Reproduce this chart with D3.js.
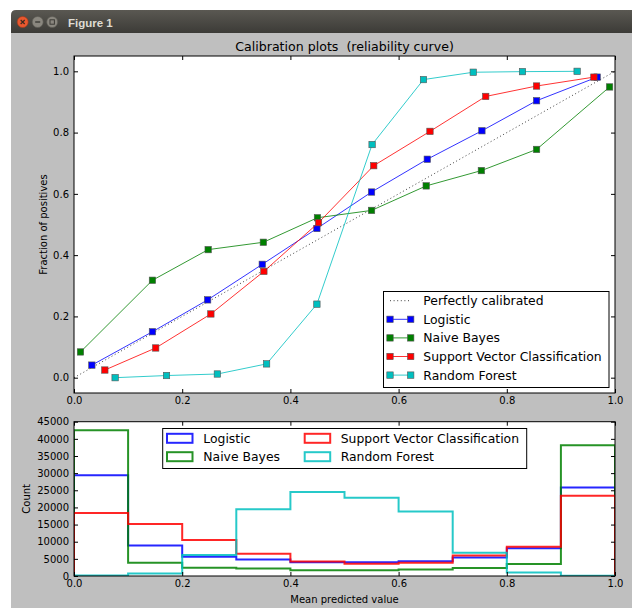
<!DOCTYPE html>
<html><head><meta charset="utf-8">
<script src="https://cdn.jsdelivr.net/npm/d3@7"></script>
<style>body{margin:0;background:#fff;} svg{display:block;} text{font-family:"DejaVu Sans",sans-serif;}</style>
</head><body>
<svg id="c" width="632" height="608"></svg>
<script>
// ---- data ----
const seriesNames = ["Logistic", "Naive Bayes", "Support Vector Classification", "Random Forest"];
const seriesColors = ["#0000ff", "#008000", "#ff0000", "#00bfbf"];
const xTicks = [0.0, 0.2, 0.4, 0.6, 0.8, 1.0];
const yTicksTop = [0.0, 0.2, 0.4, 0.6, 0.8, 1.0];
const yTicksBottom = [0, 5000, 10000, 15000, 20000, 25000, 30000, 35000, 40000, 45000];
const binEdges = [0.0, 0.1, 0.2, 0.3, 0.4, 0.5, 0.6, 0.7, 0.8, 0.9, 1.0];

const lrX  = [0.033, 0.145, 0.247, 0.348, 0.449, 0.550, 0.653, 0.754, 0.855, 0.967];
const lrY  = [0.041, 0.150, 0.254, 0.370, 0.487, 0.606, 0.713, 0.806, 0.904, 0.981];
const nbX  = [0.012, 0.145, 0.248, 0.350, 0.450, 0.550, 0.651, 0.753, 0.855, 0.990];
const nbY  = [0.084, 0.318, 0.418, 0.442, 0.522, 0.546, 0.626, 0.676, 0.745, 0.949];
const svcX = [0.057, 0.151, 0.253, 0.351, 0.452, 0.554, 0.658, 0.761, 0.855, 0.961];
const svcY = [0.025, 0.097, 0.208, 0.347, 0.506, 0.692, 0.804, 0.918, 0.952, 0.981];
const rfX  = [0.076, 0.171, 0.265, 0.356, 0.449, 0.551, 0.646, 0.738, 0.829, 0.930];
const rfY  = [0.000, 0.007, 0.012, 0.045, 0.240, 0.761, 0.973, 0.997, 0.999, 1.000];

const histLR  = [29400, 8900, 5600, 4800, 4000, 4000, 4300, 5400, 8100, 25800];
const histNB  = [42500, 3900, 2400, 2200, 1700, 1700, 1900, 2300, 3500, 38100];
const histSVC = [18400, 15200, 10500, 6500, 4200, 3600, 3900, 6000, 8500, 23400];
const histRF  = [150, 700, 6100, 19500, 24500, 22800, 18800, 6800, 1000, 100];

const curves = [[lrX, lrY], [nbX, nbY], [svcX, svcY], [rfX, rfY]];
const hists = [histLR, histNB, histSVC, histRF];

// ---- layout ----
const svg = d3.select("#c");
const FIG = {x: 11, y: 33};
const boxT = {l: 74, r: 615, t: 56, b: 393};
const boxB = {l: 74, r: 615, t: 421.7, b: 576};
const MS = 6.4;

// window chrome
const defs = svg.append("defs");
const g1 = defs.append("linearGradient").attr("id","tb").attr("x1",0).attr("x2",0).attr("y1",0).attr("y2",1);
g1.append("stop").attr("offset","0").attr("stop-color","#5a5852");
g1.append("stop").attr("offset","1").attr("stop-color","#3c3b37");
svg.append("rect").attr("x",FIG.x).attr("y",FIG.y).attr("width",632-FIG.x).attr("height",608-FIG.y).attr("fill","#bfbfbf");
svg.append("path").attr("d",`M${FIG.x},${FIG.y} V15 Q${FIG.x},10 ${FIG.x+5},10 H632 V${FIG.y} Z`).attr("fill","url(#tb)");
svg.append("circle").attr("cx",22.7).attr("cy",22).attr("r",5.5).attr("fill","#e9582f").attr("stroke","#a8391a").attr("stroke-width",0.6);
svg.append("path").attr("d","M20.7,20 L24.7,24 M24.7,20 L20.7,24").attr("stroke","#3c2a20").attr("stroke-width",1.2);
svg.append("circle").attr("cx",37.7).attr("cy",22).attr("r",5.5).attr("fill","#8a877f").attr("stroke","#5c5a54").attr("stroke-width",0.6);
svg.append("path").attr("d","M35.2,22 H40.2").attr("stroke","#3c3b37").attr("stroke-width",1.4);
svg.append("circle").attr("cx",52.2).attr("cy",22).attr("r",5.5).attr("fill","#8a877f").attr("stroke","#5c5a54").attr("stroke-width",0.6);
svg.append("rect").attr("x",50).attr("y",19.8).attr("width",4.4).attr("height",4.4).attr("fill","none").attr("stroke","#3c3b37").attr("stroke-width",1);
svg.append("text").attr("x",68).attr("y",26.5).text("Figure 1").attr("fill","#dfdbd2")
  .style("font-family","'Liberation Sans',sans-serif").style("font-weight","bold").style("font-size","11.5px");

// ---- top chart ----
const x1 = d3.scaleLinear().domain([0,1]).range([boxT.l, boxT.r]);
const y1 = d3.scaleLinear().domain([-0.05,1.05]).range([boxT.b, boxT.t]);
const gt = svg.append("g");
gt.append("rect").attr("x",boxT.l).attr("y",boxT.t).attr("width",boxT.r-boxT.l).attr("height",boxT.b-boxT.t).attr("fill","#fff");
gt.append("defs").append("clipPath").attr("id","clipT").append("rect")
  .attr("x",boxT.l).attr("y",boxT.t).attr("width",boxT.r-boxT.l).attr("height",boxT.b-boxT.t);
const plotT = gt.append("g").attr("clip-path","url(#clipT)");
plotT.append("line").attr("x1",x1(0)).attr("y1",y1(0)).attr("x2",x1(1)).attr("y2",y1(1))
  .attr("stroke","#000").attr("stroke-width",1).attr("stroke-dasharray","1,2.6").attr("opacity",0.75);
const line = d3.line();
curves.forEach(([xs, ys], i) => {
  const pts = xs.map((v,j)=>[x1(v), y1(ys[j])]);
  plotT.append("path").attr("d", line(pts)).attr("fill","none").attr("stroke",seriesColors[i]).attr("stroke-width",1).attr("opacity",0.8);
  plotT.selectAll(null).data(pts).enter().append("rect")
    .attr("x",d=>d[0]-MS/2).attr("y",d=>d[1]-MS/2).attr("width",MS).attr("height",MS)
    .attr("fill",seriesColors[i]).attr("stroke","#555").attr("stroke-width",0.6);
});

function axes(g, xs, ys, box, xt, yt, yfmt) {
  const ax = (gen, tr) => {
    const a = g.append("g").attr("transform",tr).call(gen);
    a.select(".domain").remove();
    a.selectAll("text").style("font-size","10px").style("font-family","'DejaVu Sans',sans-serif").attr("fill","#000");
    a.selectAll("line").attr("stroke","#000");
    return a;
  };
  ax(d3.axisBottom(xs).tickValues(xt).tickFormat(d3.format(".1f")).tickSizeInner(-4).tickSizeOuter(0).tickPadding(4), `translate(0,${box.b})`);
  ax(d3.axisTop(xs).tickValues(xt).tickFormat("").tickSizeInner(-4).tickSizeOuter(0), `translate(0,${box.t})`);
  ax(d3.axisLeft(ys).tickValues(yt).tickFormat(yfmt).tickSizeInner(-4).tickSizeOuter(0).tickPadding(5), `translate(${box.l},0)`);
  ax(d3.axisRight(ys).tickValues(yt).tickFormat("").tickSizeInner(-4).tickSizeOuter(0), `translate(${box.r},0)`);
  g.append("rect").attr("x",box.l).attr("y",box.t).attr("width",box.r-box.l).attr("height",box.b-box.t)
    .attr("fill","none").attr("stroke","#000").attr("stroke-width",1);
}
axes(gt, x1, y1, boxT, xTicks, yTicksTop, d3.format(".1f"));

svg.append("text").attr("x",(boxT.l+boxT.r)/2).attr("y",51).attr("text-anchor","middle")
  .attr("xml:space","preserve").style("white-space","pre")
  .style("font-size","12.6px").text("Calibration plots  (reliability curve)");
svg.append("text").attr("transform",`translate(47,${(boxT.t+boxT.b)/2}) rotate(-90)`).attr("text-anchor","middle")
  .style("font-size","10px").text("Fraction of positives");

// top legend
const lg = svg.append("g");
lg.append("rect").attr("x",383.5).attr("y",291.5).attr("width",225.5).attr("height",96).attr("fill","#fff").attr("stroke","#000").attr("stroke-width",1);
const legRows = [300.7, 319.3, 337.9, 356.5, 375.1];
lg.append("line").attr("x1",390).attr("x2",410.7).attr("y1",legRows[0]).attr("y2",legRows[0])
  .attr("stroke","#000").attr("stroke-dasharray","1,2.6").attr("opacity",0.75);
lg.append("text").attr("x",423.3).attr("y",legRows[0]+4.5).style("font-size","12.4px").text("Perfectly calibrated");
seriesNames.forEach((n,i)=>{
  const yy = legRows[i+1];
  lg.append("line").attr("x1",390).attr("x2",410.7).attr("y1",yy).attr("y2",yy).attr("stroke",seriesColors[i]).attr("opacity",0.8);
  [390,410.7].forEach(xx=>lg.append("rect").attr("x",xx-MS/2).attr("y",yy-MS/2).attr("width",MS).attr("height",MS)
    .attr("fill",seriesColors[i]).attr("stroke","#555").attr("stroke-width",0.6));
  lg.append("text").attr("x",423.3).attr("y",yy+4.5).style("font-size","12.4px").text(n);
});

// ---- bottom chart ----
const x2 = d3.scaleLinear().domain([0,1]).range([boxB.l, boxB.r]);
const y2 = d3.scaleLinear().domain([0,45000]).range([boxB.b, boxB.t]);
const gb = svg.append("g");
gb.append("rect").attr("x",boxB.l).attr("y",boxB.t).attr("width",boxB.r-boxB.l).attr("height",boxB.b-boxB.t).attr("fill","#fff");
gb.append("defs").append("clipPath").attr("id","clipB").append("rect")
  .attr("x",boxB.l).attr("y",boxB.t).attr("width",boxB.r-boxB.l).attr("height",boxB.b-boxB.t);
const plotB = gb.append("g").attr("clip-path","url(#clipB)");
hists.forEach((h,i)=>{
  const pts = [[x2(binEdges[0]), y2(0)]];
  h.forEach((v,j)=>{ pts.push([x2(binEdges[j]), y2(v)]); pts.push([x2(binEdges[j+1]), y2(v)]); });
  pts.push([x2(binEdges[binEdges.length-1]), y2(0)]);
  plotB.append("path").attr("d", line(pts)).attr("fill","none").attr("stroke",seriesColors[i]).attr("stroke-width",2).attr("opacity",0.85);
});
axes(gb, x2, y2, boxB, xTicks, yTicksBottom, d3.format("d"));
svg.append("text").attr("transform",`translate(30,${(boxB.t+boxB.b)/2}) rotate(-90)`).attr("text-anchor","middle")
  .style("font-size","10px").text("Count");
svg.append("text").attr("x",(boxB.l+boxB.r)/2).attr("y",603).attr("text-anchor","middle")
  .style("font-size","10px").text("Mean predicted value");

// bottom legend
const lb = svg.append("g");
lb.append("rect").attr("x",162.7).attr("y",428.5).attr("width",364).attr("height",40).attr("fill","#fff").attr("stroke","#000").attr("stroke-width",1);
const colX = [[167, 203.3], [304.7, 340.7]];
const rowY = [438.3, 456.7];
seriesNames.forEach((n,i)=>{
  const c = Math.floor(i/2), r = i%2;
  lb.append("rect").attr("x",colX[c][0]).attr("y",rowY[r]-4.5).attr("width",25.5).attr("height",9)
    .attr("fill","none").attr("stroke",seriesColors[i]).attr("stroke-width",2).attr("opacity",0.85);
  lb.append("text").attr("x",colX[c][1]).attr("y",rowY[r]+4.5).style("font-size","12.4px").text(n);
});
</script>
</body></html>
